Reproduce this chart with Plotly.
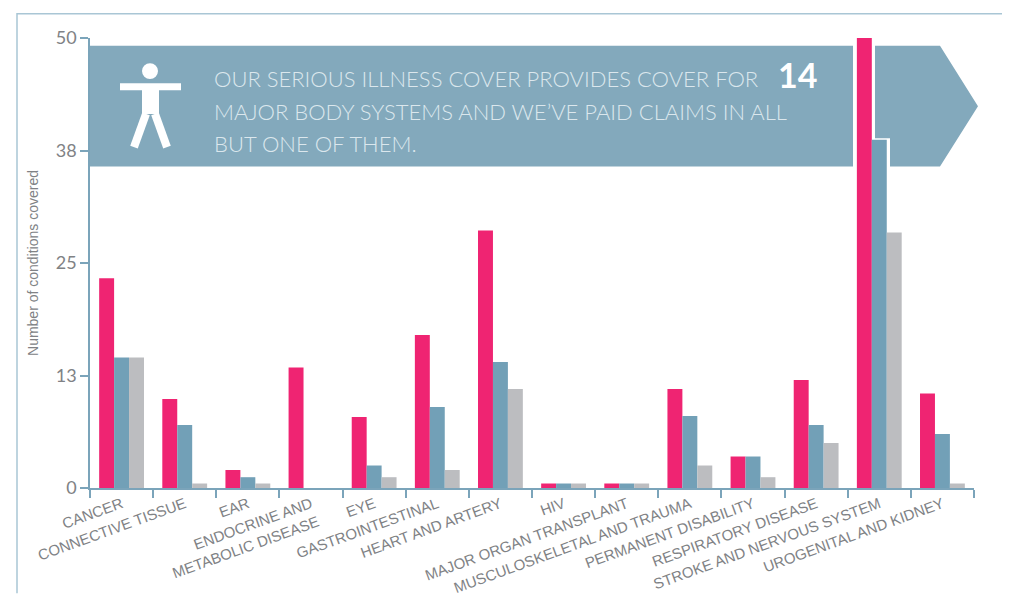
import plotly.graph_objects as go

categories = ["CANCER", "CONNECTIVE TISSUE", "EAR", "ENDOCRINE AND<br>METABOLIC DISEASE", "EYE",
              "GASTROINTESTINAL", "HEART AND ARTERY", "HIV", "MAJOR ORGAN TRANSPLANT",
              "MUSCULOSKELETAL AND TRAUMA", "PERMANENT DISABILITY", "RESPIRATORY DISEASE",
              "STROKE AND NERVOUS SYSTEM", "UROGENITAL AND KIDNEY"]
series_pink = [23.3, 9.9, 2, 13.4, 7.9, 17, 28.6, 0.5, 0.5, 11, 3.5, 12, 51, 10.5]
series_blue = [14.5, 7, 1.2, 0, 2.5, 9, 14, 0.5, 0.5, 8, 3.5, 7, 38.7, 6]
series_gray = [14.5, 0.5, 0.5, 0, 1.2, 2, 11, 0.5, 0.5, 2.5, 1.2, 5, 28.4, 0.5]
y_ticks = [0, 12.5, 25, 37.5, 50]
y_labels = ["0", "13", "25", "38", "50"]
banner_lines = ["OUR SERIOUS ILLNESS COVER PROVIDES COVER FOR",
                "MAJOR BODY SYSTEMS AND WE\u2019VE PAID CLAIMS IN ALL",
                "BUT ONE OF THEM."]

W, H = 1010, 600
L, R, T, B = 82, 966, 30, 492
AXIS = "#7ba4ba"
BANNER = "#83a9bc"
TEXT = "#808285"
NARROW = "Liberation Sans Narrow, Liberation Sans, sans-serif"
LIGHT = "Lato Light, Lato, sans-serif"

def px(x):
    return (x - L) / (R - L)

def py(y):
    return (B - y) / (B - T)

def path(points, close=True):
    s = "M " + " L ".join(f"{px(x):.5f},{py(y):.5f}" for x, y in points)
    return s + (" Z" if close else "")

fig = go.Figure()
for name, vals, col in [("A", series_pink, "#ef2472"), ("B", series_blue, "#72a0b7"), ("C", series_gray, "#bcbdc0")]:
    fig.add_bar(x=categories, y=vals, name=name, marker=dict(color=col, line_width=0), cliponaxis=False)

shapes = [
    dict(type="path", xref="paper", yref="paper", layer="below", line=dict(color="#a9c6d5", width=1.5),
         path=path([(9, 600), (9, 5), (1002, 5), (1002, 600)], close=False)),
    dict(type="path", xref="paper", yref="paper", layer="below", fillcolor=BANNER, line_width=0,
         path=path([(82, 38), (845, 38), (845, 162), (82, 162)])),
    dict(type="path", xref="paper", yref="paper", layer="below", fillcolor=BANNER, line_width=0,
         path=path([(867, 38), (932, 38), (970, 100), (932, 162), (882, 162), (882, 133), (867, 133)])),
    dict(type="circle", xref="paper", yref="paper", layer="below", fillcolor="white", line_width=0,
         x0=px(134), x1=px(150), y0=py(72), y1=py(56)),
    dict(type="path", xref="paper", yref="paper", layer="below", line=dict(color="white", width=7),
         path=path([(112, 80), (173, 80)], close=False)),
    dict(type="path", xref="paper", yref="paper", layer="below", fillcolor="white", line_width=0,
         path=path([(134, 80), (151, 80), (151, 108), (134, 108)])),
    dict(type="path", xref="paper", yref="paper", layer="below", line=dict(color="white", width=8),
         path=path([(138, 108), (126, 142)], close=False)),
    dict(type="path", xref="paper", yref="paper", layer="below", line=dict(color="white", width=8),
         path=path([(147, 108), (159, 142)], close=False)),
]

anns = []
for line, base in zip(banner_lines, [72, 105, 138]):
    anns.append(dict(xref="paper", yref="paper", x=px(204), y=py(base), text=line, showarrow=False,
                     xanchor="left", yanchor="middle", font=dict(family=LIGHT, size=22, color="#dbe7ed")))
anns.append(dict(xref="paper", yref="paper", x=px(768), y=py(67), text="<b>14</b>", showarrow=False,
                 xanchor="left", yanchor="middle", font=dict(family="Lato, sans-serif", size=34, color="white")))

fig.update_layout(
    width=W, height=H, autosize=False, showlegend=False,
    margin=dict(l=L, r=W - R, t=T, b=H - B),
    paper_bgcolor="white", plot_bgcolor="white",
    barmode="group", bargap=0.29, bargroupgap=0,
    shapes=shapes, annotations=anns,
    xaxis=dict(showgrid=False, showline=True, linecolor=AXIS, linewidth=1.5, ticks="outside", ticklen=8,
               tickcolor=AXIS, tickwidth=1.5, tickson="boundaries", tickangle=-20,
               tickfont=dict(family=NARROW, size=15, color=TEXT)),
    yaxis=dict(range=[0, 50], showgrid=False, zeroline=False, showline=True, linecolor=AXIS, linewidth=1.5,
               ticks="outside", ticklen=8, tickcolor=AXIS, tickwidth=1.5, tickmode="array",
               tickvals=y_ticks, ticktext=y_labels, tickfont=dict(family="Lato, sans-serif", size=18, color=TEXT),
               title=dict(text="Number of conditions covered", standoff=14,
                          font=dict(family=NARROW, size=14, color=TEXT))),
)
fig.write_html("out.html")
